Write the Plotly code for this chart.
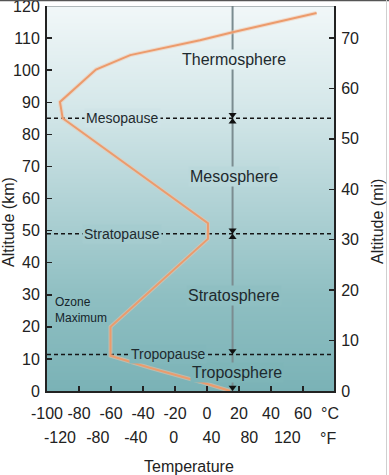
import plotly.graph_objects as go

# ---------------- data ----------------
alt_km = [0, 2.9, 7.2, 11.0, 20.0, 47.4, 52.3, 85.0, 90.1, 100.2, 104.7, 109.3, 111.8, 117.8]
temp_c = [14.5, -4.4, -35.6, -60.3, -60.3, 0.6, 0.6, -90.2, -91.9, -69.4, -48.0, -4.4, 16.0, 68.5]

boundary_names = ["Mesopause", "Stratopause", "Tropopause"]
boundary_km = [85.0, 49.0, 11.4]
boundary_label_c = [-53.0, -53.0, -24.4]

layer_names = ["Thermosphere", "Mesosphere", "Stratosphere", "Troposphere"]
layer_label_km = [103.4, 67.0, 29.9, 5.9]
layer_label_c = [17.2, 17.0, 17.0, 19.0]

marker_c = 16.0                      # vertical layer-arrow line position
down_arrow_km = [85.0, 49.0, 11.4, 0.0]
up_arrow_km = [85.0, 49.0]

ozone_label = "Ozone<br>Maximum"
ozone_c, ozone_km = -96.4, 25.2

km_ticks = [0, 10, 20, 30, 40, 50, 60, 70, 80, 90, 100, 110, 120]
mi_ticks = [0, 10, 20, 30, 40, 50, 60, 70]
c_ticks = [-100, -80, -60, -40, -20, 0, 20, 40, 60]
f_ticks = [-120, -80, -40, 0, 40, 80, 120]

bg_km = [0, 30, 60, 90, 120]
bg_rgb = [(122, 178, 182), (143, 191, 194), (178, 211, 214), (214, 232, 234), (241, 247, 248)]

# ---------------- layout constants ----------------
W, H = 389, 475
ML, MR, MT, MB = 47, 55, 6, 0
PLOT_W = W - ML - MR
PAPER_H = H - MT - MB
PLOT_BOTTOM_PX = 391
YDOM0 = (H - MB - PLOT_BOTTOM_PX) / PAPER_H
PLOT_H = PLOT_BOTTOM_PX - MT
KM_RANGE = [0, 120]
C_RANGE = [-100, 79.4]
MI_RANGE = [0, 76.35]
F_RANGE = [-133.7, 169.4]
px_per_km = PLOT_H / (KM_RANGE[1] - KM_RANGE[0])

FONT = "Liberation Sans, Arial, sans-serif"
TXT = "#1e2a2e"


def px_x(px):
    return (px - ML) / PLOT_W


def px_y(py):
    return (H - MB - py) / PAPER_H


def rgb_str(c):
    return "rgb(%d,%d,%d)" % tuple(int(round(v)) for v in c)


def color_at(km):
    for i in range(len(bg_km) - 1):
        if bg_km[i] <= km <= bg_km[i + 1]:
            t = (km - bg_km[i]) / (bg_km[i + 1] - bg_km[i])
            return rgb_str([a + (b - a) * t for a, b in zip(bg_rgb[i], bg_rgb[i + 1])])
    return rgb_str(bg_rgb[-1])


def hyph(v):
    return str(v).replace("\u2212", "-")


fig = go.Figure()

# background gradient
fig.add_trace(go.Heatmap(
    x=C_RANGE, y=bg_km, z=[[k, k] for k in bg_km],
    zmin=bg_km[0], zmax=bg_km[-1], zsmooth="best",
    colorscale=[[(k - bg_km[0]) / (bg_km[-1] - bg_km[0]), rgb_str(c)] for k, c in zip(bg_km, bg_rgb)],
    showscale=False, hoverinfo="skip"))

# vertical layer line
fig.add_trace(go.Scatter(x=[marker_c, marker_c], y=KM_RANGE, mode="lines",
                         line=dict(color="#7b8c90", width=2), hoverinfo="skip", showlegend=False))

# dashed boundary lines
for b in boundary_km:
    fig.add_trace(go.Scatter(x=C_RANGE, y=[b, b], mode="lines",
                             line=dict(color="#151515", width=1.4, dash="4px,3px"),
                             hoverinfo="skip", showlegend=False))

# temperature profile (glow + line)
fig.add_trace(go.Scatter(x=temp_c, y=alt_km, mode="lines",
                         line=dict(color="rgba(246,196,166,0.5)", width=4),
                         hoverinfo="skip", showlegend=False))
fig.add_trace(go.Scatter(x=temp_c, y=alt_km, mode="lines",
                         line=dict(color="#ec9b6c", width=2),
                         hoverinfo="skip", showlegend=False))

# arrow heads
TRI = 7
tip_km = (TRI / 2) / px_per_km
fig.add_trace(go.Scatter(x=[marker_c] * len(down_arrow_km), y=[k + tip_km for k in down_arrow_km],
                         mode="markers", marker=dict(symbol="triangle-down", size=TRI, color="#111"),
                         hoverinfo="skip", showlegend=False, cliponaxis=False))
fig.add_trace(go.Scatter(x=[marker_c] * len(up_arrow_km), y=[k - tip_km for k in up_arrow_km],
                         mode="markers", marker=dict(symbol="triangle-up", size=TRI, color="#111"),
                         hoverinfo="skip", showlegend=False, cliponaxis=False))

# dummy traces for secondary axes
fig.add_trace(go.Scatter(x=[f_ticks[0], f_ticks[-1]], y=[0, 0], xaxis="x2", yaxis="y",
                         mode="markers", marker=dict(opacity=0), hoverinfo="skip", showlegend=False))
fig.add_trace(go.Scatter(x=[c_ticks[0], c_ticks[-1]], y=[0, 0], xaxis="x", yaxis="y2",
                         mode="markers", marker=dict(opacity=0), hoverinfo="skip", showlegend=False))

annotations = []
for name, k, c in zip(layer_names, layer_label_km, layer_label_c):
    annotations.append(dict(x=c, y=k, xref="x", yref="y", text=name, showarrow=False,
                            xanchor="center", yanchor="middle",
                            font=dict(family=FONT, size=16, color=TXT),
                            bgcolor=color_at(k), borderpad=1))
for name, k, c in zip(boundary_names, boundary_km, boundary_label_c):
    annotations.append(dict(x=c, y=k, xref="x", yref="y", text=name, showarrow=False,
                            xanchor="center", yanchor="middle",
                            font=dict(family=FONT, size=14, color=TXT),
                            bgcolor=color_at(k), borderpad=1))
annotations.append(dict(x=ozone_c, y=ozone_km, xref="x", yref="y", text=ozone_label,
                        showarrow=False, xanchor="left", yanchor="middle", align="left",
                        font=dict(family=FONT, size=12, color="#15242a")))


def paper_text(text, px, py, angle=0):
    return dict(x=px_x(px), y=px_y(py), xref="paper", yref="paper", text=text, showarrow=False,
                xanchor="center", yanchor="middle", textangle=angle,
                font=dict(family=FONT, size=16, color="#222"))


annotations += [
    paper_text("\u00b0C", 330, 413),
    paper_text("\u00b0F", 328, 438),
    paper_text("Temperature", 189, 466),
    paper_text("Altitude (km)", 9, 222, -90),
    paper_text("Altitude (mi)", 378, 222, -90),
]

shapes = [
    # plot top border
    dict(type="line", xref="paper", yref="y", x0=0, x1=1, y0=KM_RANGE[1], y1=KM_RANGE[1],
         line=dict(color="#6f7a7d", width=1.2), layer="above"),
    # image frame (top and right)
    dict(type="line", xref="paper", yref="paper", x0=px_x(0), x1=px_x(W), y0=px_y(0.6), y1=px_y(0.6),
         line=dict(color="#555", width=1.5), layer="above"),
    dict(type="line", xref="paper", yref="paper", x0=px_x(386.5), x1=px_x(386.5), y0=px_y(0), y1=px_y(H),
         line=dict(color="#cfcfcf", width=1), layer="above"),
]

tickfont = dict(family=FONT, size=16, color="#222")
common = dict(showgrid=False, zeroline=False, automargin=False, ticklabeloverflow="allow",
              tickfont=tickfont)
fig.update_layout(
    template="none",
    font=dict(family=FONT, size=16, color="#222"),
    width=W, height=H, autosize=False,
    margin=dict(l=ML, r=MR, t=MT, b=MB, autoexpand=False),
    paper_bgcolor="white", plot_bgcolor="white",
    showlegend=False,
    xaxis=dict(range=C_RANGE, tickvals=c_ticks, ticktext=[hyph(v) for v in c_ticks],
               ticks="inside", ticklen=5, tickwidth=1.5, tickcolor="#222",
               showline=True, linecolor="#222", linewidth=2,
               ticklabelstandoff=7, anchor="y", **common),
    xaxis2=dict(range=F_RANGE, tickvals=f_ticks, ticktext=[hyph(v) for v in f_ticks],
                overlaying="x", anchor="free", position=YDOM0, side="bottom",
                ticks="", showline=False, ticklabelstandoff=35, **common),
    yaxis=dict(range=KM_RANGE, domain=[YDOM0, 1], tickvals=km_ticks,
               ticks="inside", ticklen=5, tickwidth=1.5, tickcolor="#222",
               showline=True, linecolor="#222", linewidth=2,
               ticklabelstandoff=2, **common),
    yaxis2=dict(range=MI_RANGE, tickvals=mi_ticks, overlaying="y", side="right", anchor="x",
                ticks="inside", ticklen=5, tickwidth=1.5, tickcolor="#222",
                showline=True, linecolor="#222", linewidth=2,
                ticklabelstandoff=2, **common),
    annotations=annotations,
    shapes=shapes,
)

fig.write_html("out.html", config={"staticPlot": True},
               post_script="document.body.style.margin='0';document.body.style.overflow='hidden';")
